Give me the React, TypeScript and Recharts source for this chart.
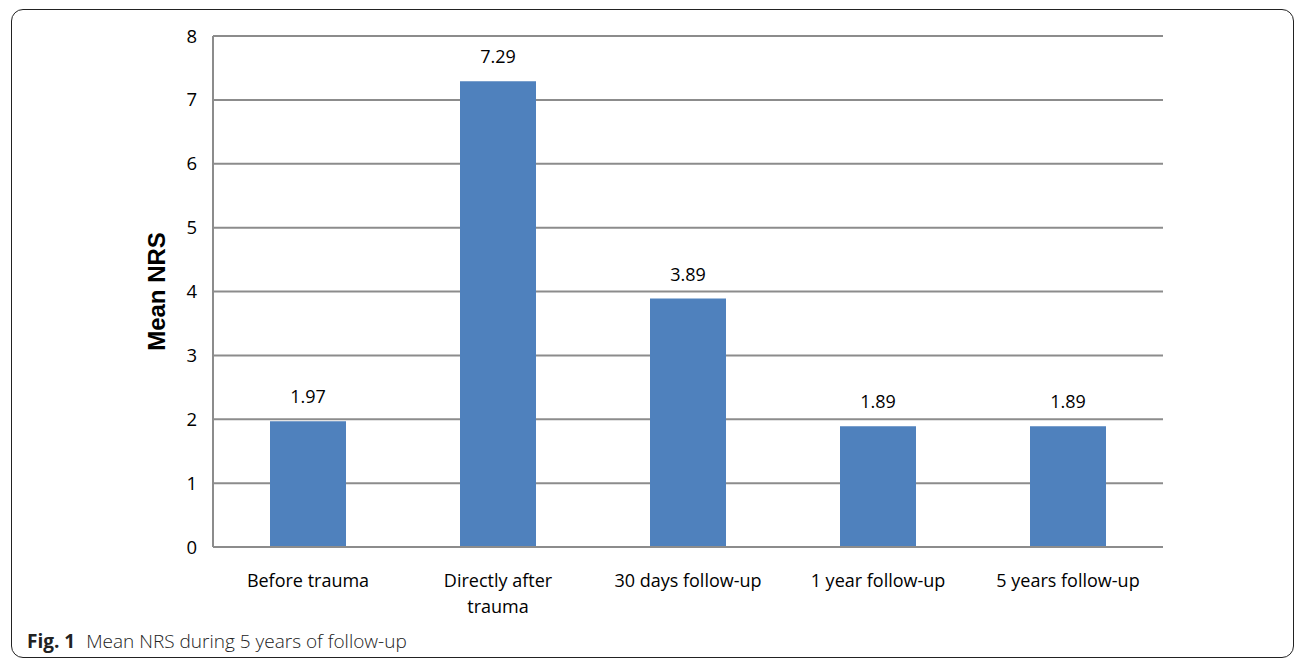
import React from "react";
import { BarChart, Bar, XAxis, YAxis, CartesianGrid, LabelList, Label } from "recharts";

const categories = ["Before trauma", "Directly after trauma", "30 days follow-up", "1 year follow-up", "5 years follow-up"];
const meanNRS = [1.97, 7.29, 3.89, 1.89, 1.89];
const yTicks = [0, 1, 2, 3, 4, 5, 6, 7, 8];

const data = categories.map((c, i) => ({ name: c, value: meanNRS[i] }));

const FONT = "'Open Sans', sans-serif";
const TICK_FONT_SIZE = 18;
const WRAP_WIDTH = 160;

let ctx: CanvasRenderingContext2D | null = null;
function measure(s: string): number {
  if (typeof document !== "undefined") {
    if (!ctx) ctx = document.createElement("canvas").getContext("2d");
    if (ctx) {
      ctx.font = `${TICK_FONT_SIZE}px 'Open Sans', sans-serif`;
      return ctx.measureText(s).width;
    }
  }
  return s.length * TICK_FONT_SIZE * 0.52;
}

function wrap(label: string): string[] {
  const words = label.split(" ");
  const lines: string[] = [];
  let cur = "";
  for (const w of words) {
    const cand = cur ? cur + " " + w : w;
    if (cur && measure(cand) > WRAP_WIDTH) {
      lines.push(cur);
      cur = w;
    } else {
      cur = cand;
    }
  }
  if (cur) lines.push(cur);
  return lines;
}

const XTick = (props: any) => {
  const { x, y, payload } = props;
  const lines = wrap(String(payload.value));
  return (
    <text
      x={x}
      y={y}
      textAnchor="middle"
      fontSize={TICK_FONT_SIZE}
      fontFamily={FONT}
      fill="#000"
    >
      {lines.map((l, i) => (
        <tspan key={i} x={x} dy={i === 0 ? "0.71em" : 26}>
          {l}
        </tspan>
      ))}
    </text>
  );
};

const YLabel = (props: any) => {
  const vb = props.viewBox || { x: 0, y: 0, width: 0, height: 0 };
  const cx = 156;
  const cy = vb.y + vb.height / 2;
  return (
    <text
      x={cx}
      y={cy}
      transform={`rotate(-90, ${cx}, ${cy})`}
      textAnchor="middle"
      dominantBaseline="central"
      fontFamily="'Liberation Sans', Arial, sans-serif"
      fontWeight="bold"
      fontSize={24}
      fill="#000"
    >
      Mean NRS
    </text>
  );
};

export default function App() {
  return (
    <div style={{ position: "absolute", left: 0, top: 0, width: 1296, height: 661, background: "#fff" }}>
      <div
        style={{
          position: "absolute",
          left: 11,
          top: 9,
          width: 1283,
          height: 649,
          border: "1.5px solid #222",
          borderRadius: 12,
          boxSizing: "border-box",
        }}
      />
      <div style={{ position: "absolute", left: 0, top: 0 }}>
        <BarChart
          width={1296}
          height={661}
          data={data}
          margin={{ top: 36, right: 133, bottom: 84, left: 153 }}
          barCategoryGap="30%"
        >
          <CartesianGrid horizontal vertical={false} stroke="#8c8c8c" strokeWidth={2} />
          <XAxis
            dataKey="name"
            height={30}
            axisLine={{ stroke: "#8c8c8c", strokeWidth: 2 }}
            tickLine={false}
            tickSize={0}
            tickMargin={27}
            interval={0}
            tick={<XTick />}
          />
          <YAxis
            domain={[0, 8]}
            ticks={yTicks}
            width={60}
            axisLine={{ stroke: "#8c8c8c", strokeWidth: 2 }}
            tickLine={false}
            tickSize={0}
            tickMargin={16}
            tick={{ fontSize: 18.5, fontFamily: FONT, fill: "#000" }}
          >
            <Label content={<YLabel />} />
          </YAxis>
          <Bar dataKey="value" fill="#4F81BD" isAnimationActive={false}>
            <LabelList dataKey="value" position="top" offset={18} fontSize={18} fontFamily={FONT} fill="#000" />
          </Bar>
        </BarChart>
      </div>
      <div
        style={{
          position: "absolute",
          left: 27,
          top: 628,
          fontFamily: FONT,
          fontSize: 19,
          color: "#222",
          whiteSpace: "nowrap",
        }}
      >
        <span style={{ fontWeight: 700 }}>Fig. 1</span>
        <span style={{ fontWeight: 300, marginLeft: 11 }}>Mean NRS during 5 years of follow-up</span>
      </div>
    </div>
  );
}
